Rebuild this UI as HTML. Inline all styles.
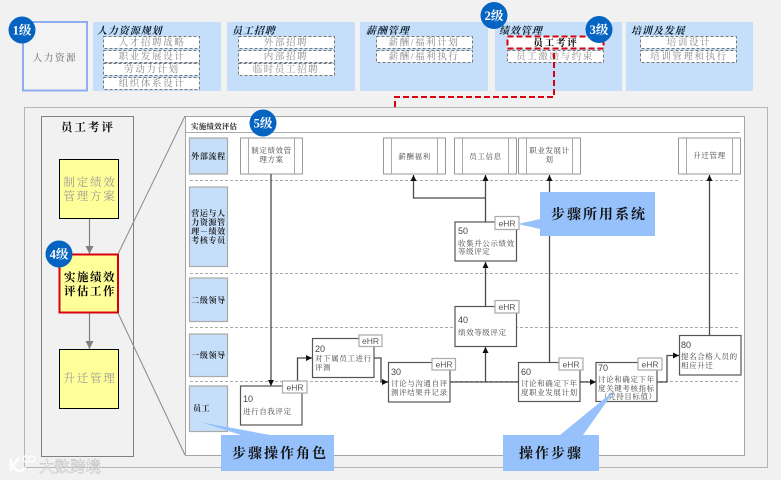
<!DOCTYPE html>
<html><head><meta charset="utf-8">
<style>
html,body{margin:0;padding:0;background:#f1f1f1;width:781px;height:480px;overflow:hidden}
svg{display:block;filter:blur(.25px)}
text{font-family:"Liberation Serif","Noto Serif CJK SC",serif}
.h{font-size:10px;font-weight:700;font-style:italic;fill:#123;letter-spacing:.9px}
.d{font-size:9.5px;fill:#8a8a8a;text-anchor:middle;letter-spacing:1.6px}
.r{fill:#fff;stroke:#777;stroke-width:1;stroke-dasharray:3 2}
.b{fill:#c5dffb}
.c{fill:#c5dffb;stroke:#aaa;stroke-width:1.2}
.cl{font-size:8px;font-weight:700;fill:#222;text-anchor:middle;letter-spacing:.6px}
.e{fill:#fff;stroke:#999;stroke-width:1}
.el{fill:none;stroke:#aaa;stroke-width:1}
.et{font-size:7.5px;fill:#444;text-anchor:middle;letter-spacing:.6px}
.s{fill:#fff;stroke:#555;stroke-width:1.2}
.n{font-family:"Liberation Sans",sans-serif;font-size:9px;fill:#444}
.st{font-size:7.5px;fill:#444;letter-spacing:.6px}
.x{fill:#fff;stroke:#aaa;stroke-width:1.2}
.xt{font-family:"Liberation Sans",sans-serif;font-size:8.5px;fill:#555;text-anchor:middle}
.dl{stroke:#aaa;stroke-width:1;stroke-dasharray:3 2}
.l{fill:none;stroke:#4a4a4a;stroke-width:1.3}
.y{fill:#ffff99;stroke:#000;stroke-width:1}
.yt{font-size:11.5px;fill:#999;text-anchor:middle;letter-spacing:1.8px}
.bd{fill:#0563c1}
.bt{font-size:12.5px;font-weight:700;fill:#fff;text-anchor:middle}
.cal{fill:#96c1fb}
.ct{font-size:14px;font-weight:700;fill:#111;text-anchor:middle;letter-spacing:2px}
</style></head><body>
<svg width="781" height="480" viewBox="0 0 781 480" xmlns="http://www.w3.org/2000/svg">
<defs>
<marker id="a" markerUnits="userSpaceOnUse" markerWidth="7" markerHeight="7" refX="6" refY="3" orient="auto"><path d="M0 0L6 3L0 6Z" fill="#111"/></marker>
<marker id="g" markerUnits="userSpaceOnUse" markerWidth="9" markerHeight="9" refX="8" refY="4" orient="auto"><path d="M0 0L8 4L0 8Z" fill="#808080"/></marker>
</defs>

<!-- top row -->
<rect x="23" y="22" width="64" height="68.5" fill="#f3f3f3" stroke="#8eaef0" stroke-width="2"/>
<text x="55" y="61" text-anchor="middle" font-size="9.5" fill="#666" letter-spacing="1.6">人力资源</text>

<rect class="b" x="93" y="22" width="128" height="69"/>
<rect class="b" x="227" y="22" width="128" height="69"/>
<rect class="b" x="360" y="22" width="128" height="69"/>
<rect class="b" x="495" y="22" width="127" height="69"/>
<rect class="b" x="626" y="22" width="127" height="69"/>

<text class="h" x="97" y="34">人力资源规划</text>
<text class="h" x="232" y="34">员工招聘</text>
<text class="h" x="366" y="34">薪酬管理</text>
<text class="h" x="499" y="34">绩效管理</text>
<text class="h" x="631" y="34">培训及发展</text>

<rect class="r" x="103.500" y="36.500" width="96" height="12"/>
<rect class="r" x="103.500" y="50.500" width="96" height="12"/>
<rect class="r" x="103.500" y="63.500" width="96" height="12"/>
<rect class="r" x="103.500" y="77.500" width="96" height="12"/>
<text class="d" x="152" y="45.500">人才招聘战略</text>
<text class="d" x="152" y="59.500">职业发展设计</text>
<text class="d" x="152" y="72.500">劳动力计划</text>
<text class="d" x="152" y="86.500">组织体系设计</text>

<rect class="r" x="238.500" y="36.500" width="96" height="12"/>
<rect class="r" x="238.500" y="50.500" width="96" height="12"/>
<rect class="r" x="238.500" y="63.500" width="96" height="12"/>
<text class="d" x="286" y="45.500">外部招聘</text>
<text class="d" x="286" y="59.500">内部招聘</text>
<text class="d" x="286" y="72.500">临时员工招聘</text>

<rect class="r" x="376.500" y="36.500" width="96" height="12"/>
<rect class="r" x="376.500" y="50.500" width="96" height="12"/>
<text class="d" x="424" y="45.500">薪酬/福利计划</text>
<text class="d" x="424" y="59.500">薪酬/福利执行</text>

<rect class="r" x="507.500" y="50.500" width="96" height="12"/>
<text class="d" x="555" y="59.500">员工激励与约束</text>
<rect x="507.500" y="36.500" width="96" height="12" fill="#fff" stroke="#d8000f" stroke-width="2" stroke-dasharray="6 3"/>
<text x="556" y="46" text-anchor="middle" font-size="9.5" font-weight="700" fill="#000" letter-spacing="1.8">员工考评</text>

<rect class="r" x="640.500" y="36.500" width="96" height="12"/>
<rect class="r" x="640.500" y="50.500" width="96" height="12"/>
<text class="d" x="689" y="45.500">培训设计</text>
<text class="d" x="689" y="59.500">培训管理和执行</text>

<!-- main frame -->
<rect x="24.500" y="107.500" width="743" height="360" fill="#f1f1f1" stroke="#b5b5b5" stroke-width="1"/>
<path d="M395 107V97H554V50" fill="none" stroke="#d8000f" stroke-width="2" stroke-dasharray="6 3"/>

<!-- left column -->
<rect x="41.500" y="116.500" width="92" height="340" fill="#f1f1f1" stroke="#808080" stroke-width="1"/>
<text x="88" y="131" text-anchor="middle" font-size="11.5" font-weight="700" fill="#111" letter-spacing="2">员工考评</text>

<path d="M89.500 218.500V254" stroke="#808080" stroke-width="1.2" marker-end="url(#g)" fill="none"/>
<path d="M89.500 313V349" stroke="#808080" stroke-width="1.2" marker-end="url(#g)" fill="none"/>

<rect class="y" x="59.500" y="159.500" width="59" height="59"/>
<text class="yt" x="90" y="186">制定绩效</text>
<text class="yt" x="90" y="200">管理方案</text>

<rect x="59.500" y="254.500" width="58.500" height="58" fill="#ffff99" stroke="#d8000f" stroke-width="2"/>
<text x="90" y="281" text-anchor="middle" font-size="11.5" font-weight="700" fill="#000" letter-spacing="1.5">实施绩效</text>
<text x="90" y="295" text-anchor="middle" font-size="11.5" font-weight="700" fill="#000" letter-spacing="1.5">评估工作</text>

<rect class="y" x="59.500" y="349.500" width="59" height="59"/>
<text class="yt" x="90" y="382">升迁管理</text>

<!-- zoom lines -->
<path d="M118 254L185 116M118 313L185 455" stroke="#888" stroke-width="1" fill="none"/>

<!-- white panel -->
<rect x="185.500" y="116.500" width="559" height="339" fill="#fff" stroke="#a5a5a5" stroke-width="1"/>
<path d="M186 132.500H740" stroke="#aaa" stroke-width="1"/>
<text x="191" y="129" font-size="7.500" font-weight="700" fill="#222" letter-spacing=".2">实施绩效评估</text>

<!-- dashed lanes -->
<path class="dl" d="M190 180.500H740M190 273.500H740M190 327.500H740M190 381.500H740"/>

<!-- lane cells -->
<rect class="c" x="189.500" y="138" width="38" height="36"/>
<rect class="c" x="189.500" y="187" width="38" height="79.500"/>
<rect class="c" x="189.500" y="278" width="38" height="43.500"/>
<rect class="c" x="189.500" y="334" width="38" height="42.500"/>
<rect class="c" x="189.500" y="386" width="38" height="45.500"/>
<text class="cl" x="208.500" y="159">外部流程</text>
<text class="cl" x="208.500" y="216">营运与人</text>
<text class="cl" x="208.500" y="225">力资源管</text>
<text class="cl" x="208.500" y="234">理－绩效</text>
<text class="cl" x="208.500" y="243">考核专员</text>
<text class="cl" x="208.500" y="303">二级领导</text>
<text class="cl" x="208.500" y="358">一级领导</text>
<text x="193" y="411" font-size="8" font-weight="700" fill="#222" letter-spacing=".6">员工</text>

<!-- external boxes -->
<rect class="e" x="240.500" y="138" width="62" height="36"/><path class="el" d="M248.500 138V174M294.500 138V174"/>
<text class="et" x="271.500" y="153">制定绩效管</text><text class="et" x="271.500" y="162">理方案</text>
<rect class="e" x="383.500" y="138" width="62" height="36"/><path class="el" d="M391.500 138V174M437.500 138V174"/>
<text class="et" x="414.500" y="159">薪酬福利</text>
<rect class="e" x="454.500" y="138" width="62" height="36"/><path class="el" d="M462.500 138V174M508.500 138V174"/>
<text class="et" x="485.500" y="159">员工信息</text>
<rect class="e" x="518.500" y="138" width="62" height="36"/><path class="el" d="M526.500 138V174M572.500 138V174"/>
<text class="et" x="549.500" y="153">职业发展计</text><text class="et" x="549.500" y="162">划</text>
<rect class="e" x="678.500" y="138" width="62" height="36"/><path class="el" d="M686.500 138V174M732.500 138V174"/>
<text class="et" x="709.500" y="158">升迁管理</text>

<!-- connectors -->
<path class="l" d="M271 174V386" marker-end="url(#a)"/>
<path class="l" d="M297.500 381V358H312" marker-end="url(#a)"/>
<path class="l" d="M374 358H381V382H388" marker-end="url(#a)"/>
<path class="l" d="M450 382H518"/>
<path class="l" d="M485.500 382V347" marker-end="url(#a)"/>
<path class="l" d="M485.500 306V262" marker-end="url(#a)"/>
<path class="l" d="M485.500 222V175" marker-end="url(#a)"/>
<path class="l" d="M485.500 198H413.500V175" marker-end="url(#a)"/>
<path class="l" d="M549.500 362V175" marker-end="url(#a)"/>
<path class="l" d="M580 382H596" marker-end="url(#a)"/>
<path class="l" d="M657 382H667V355.500H679" marker-end="url(#a)"/>
<path class="l" d="M709.500 335V175" marker-end="url(#a)"/>

<!-- steps -->
<rect class="s" x="240.500" y="386" width="61.500" height="39"/>
<text class="n" x="243" y="402">10</text><text class="st" x="243" y="414">进行自我评定</text>
<rect class="x" x="282.500" y="381" width="24.500" height="12"/><text class="xt" x="295" y="390.500">eHR</text>

<rect class="s" x="312.500" y="338.500" width="61.500" height="39"/>
<text class="n" x="315" y="352">20</text><text class="st" x="315" y="361">对下属员工进行</text><text class="st" x="315" y="370">评测</text>
<rect class="x" x="359" y="335" width="23" height="11.500"/><text class="xt" x="370.500" y="344">eHR</text>

<rect class="s" x="388.500" y="362.500" width="61.500" height="39.500"/>
<text class="n" x="391" y="375">30</text><text class="st" x="391" y="386">讨论与沟通自评</text><text class="st" x="391" y="395">测评结果并记录</text>
<rect class="x" x="432" y="358.500" width="23.500" height="11.500"/><text class="xt" x="444" y="367.500">eHR</text>

<rect class="s" x="455" y="306.500" width="61.500" height="40"/>
<text class="n" x="458" y="323">40</text><text class="st" x="458" y="335">绩效等级评定</text>
<rect class="x" x="495" y="300.500" width="24" height="12.500"/><text class="xt" x="507" y="310">eHR</text>

<rect class="s" x="455" y="222" width="61.500" height="39"/>
<text class="n" x="458" y="234">50</text><text class="st" x="458" y="246">收集并公示绩效</text><text class="st" x="458" y="254">等级评定</text>
<rect class="x" x="495" y="216.500" width="24" height="13"/><text class="xt" x="507" y="226.500">eHR</text>

<rect class="s" x="518.500" y="362.500" width="61.500" height="39"/>
<text class="n" x="521" y="375">60</text><text class="st" x="521" y="386">讨论和确定下年</text><text class="st" x="521" y="395">度职业发展计划</text>
<rect class="x" x="559" y="358" width="24" height="12"/><text class="xt" x="571" y="367.500">eHR</text>

<rect class="s" x="596" y="362.500" width="61" height="39"/>
<text class="n" x="598" y="371">70</text><text class="st" x="598" y="382">讨论和确定下年</text><text class="st" x="598" y="391">度关键考核指标</text><text class="st" x="600" y="399">（凭持目标值）</text>
<rect class="x" x="638" y="358" width="24" height="12"/><text class="xt" x="650" y="367.500">eHR</text>

<rect class="s" x="679.500" y="335.500" width="61.500" height="39.500"/>
<text class="n" x="681" y="348">80</text><text class="st" x="681" y="359">提名合格人员的</text><text class="st" x="681" y="368">相应升迁</text>

<!-- callouts -->
<polygon class="cal" points="540,192 655,192 655,236 540,236 540,229 518,224 540,219"/>
<text class="ct" x="599" y="219">步骤所用系统</text>
<polygon class="cal" points="200,422 270,435 334,435 334,471 221,471 221,435 241,435"/>
<text class="ct" x="280" y="458">步骤操作角色</text>
<polygon class="cal" points="615,390 583,435 599,435 599,471 503,471 503,435 560,435"/>
<text class="ct" x="551" y="458">操作步骤</text>

<!-- badges -->
<circle class="bd" cx="22" cy="30" r="13.500"/><text class="bt" x="22" y="34.500">1级</text>
<circle class="bd" cx="494" cy="15.500" r="13.500"/><text class="bt" x="494" y="20">2级</text>
<circle class="bd" cx="599" cy="29.500" r="13.500"/><text class="bt" x="599" y="34">3级</text>
<circle class="bd" cx="59" cy="254" r="13.500"/><text class="bt" x="59" y="258.500">4级</text>
<circle class="bd" cx="263" cy="123" r="13.500"/><text class="bt" x="263" y="127.500">5级</text>

<!-- watermark -->
<g opacity=".9">
<path d="M11 458V471M13 465L19 458M13 465C15 472 22 473 25 467" fill="none" stroke="#fff" stroke-width="2.500"/>
<circle cx="26" cy="459" r="3" fill="none" stroke="#fff" stroke-width="1.500"/>
<circle cx="32" cy="459" r="3" fill="none" stroke="#fff" stroke-width="1.500"/>
<text x="39" y="472" font-size="15.500" fill="#fff" stroke="#aaa" stroke-width=".4" style='font-family:"Liberation Sans","Noto Sans CJK SC",sans-serif'>大数跨境</text>
</g>
</svg>
</body></html>
